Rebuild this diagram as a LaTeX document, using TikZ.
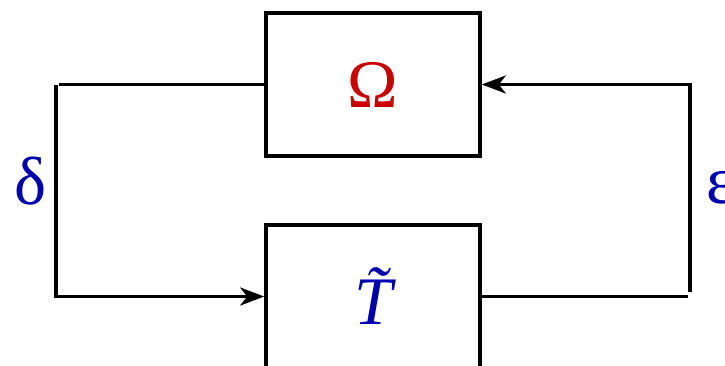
\documentclass[tikz,border=0pt]{standalone}
\usepackage{fontspec}
\setmainfont{Liberation Serif}
\usepackage{xcolor}
\usepackage{tikz}
\usetikzlibrary{positioning,arrows.meta}

\definecolor{omegared}{RGB}{204,0,0}
\definecolor{loopblue}{RGB}{0,0,176}

\tikzset{
  blk/.style={draw, line width=3.6pt, minimum width=214pt, minimum height=143pt, inner sep=0pt},
  sym/.style={font=\fontsize{68}{70}\selectfont, inner sep=0pt},
}

\begin{document}
\begin{tikzpicture}[>={Stealth[length=24pt,width=18pt,inset=7pt]}, x=1pt, y=-1pt, line width=3.6pt]
        \useasboundingbox (0,0) rectangle (725,365);
        \node[blk, sym, text=omegared] (omega) at (373,84.5) {Ω};
        \node[blk, sym, text=loopblue] (ttil) at (373,296.5) {\itshape\~{T}};
        \node[sym, text=loopblue] (delta) at (30.5,181) {δ};
        \node[sym, text=loopblue, anchor=west] (eps) at (705,188) {ε};
        % left branch
        \coordinate (lend) at (59,84.5);
        \coordinate (ltop) at (56,84.5);
        \draw (omega.west) -- (lend);
        \draw[->] (ltop) |- (ttil.west);
        % right branch
        \coordinate (rend) at (688,296.5);
        \coordinate (rbot) at (690,292);
        \draw (ttil.east) -- (rend);
        \draw[->] (rbot) |- (omega.east);
    \end{tikzpicture}
\end{document}
